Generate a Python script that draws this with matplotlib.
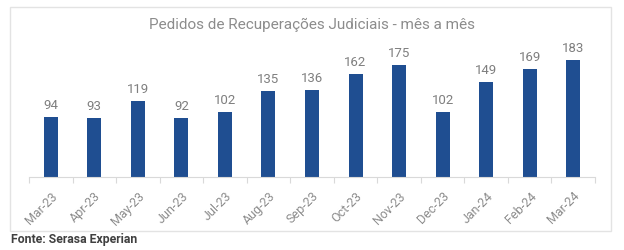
import matplotlib.pyplot as plt
from matplotlib.patches import Rectangle

plt.rcParams['font.family'] = ['Roboto', 'DejaVu Sans']

months = ['Mar-23', 'Apr-23', 'May-23', 'Jun-23', 'Jul-23', 'Aug-23', 'Sep-23',
          'Oct-23', 'Nov-23', 'Dec-23', 'Jan-24', 'Feb-24', 'Mar-24']
pedidos = [94, 93, 119, 92, 102, 135, 136, 162, 175, 102, 149, 169, 183]

W, H = 624, 250
fig = plt.figure(figsize=(W / 100, H / 100), dpi=100)

# frame around the chart
fig.patches.append(Rectangle((10 / W, 1 - 231 / H), 601 / W, 224 / H,
                             transform=fig.transFigure, fill=False,
                             edgecolor='#e3e3e3', linewidth=1))

ax = fig.add_axes([29 / W, 1 - 177 / H, 566 / W, 137 / H])
x = range(len(months))
ax.bar(x, pedidos, width=0.32, color='#1f4e91')
for i, v in zip(x, pedidos):
    ax.text(i, v + 8, str(v), ha='center', va='bottom', fontsize=9.5, color='#7f7f7f')

ax.set_xlim(-0.5, len(months) - 0.5)
ax.set_ylim(0, 215)
ax.set_yticks([])
for s in ['top', 'right', 'left']:
    ax.spines[s].set_visible(False)
ax.spines['bottom'].set_color('#d9d9d9')

# ticks sit between categories
ax.set_xticks([i - 0.5 for i in range(len(months) + 1)], minor=False)
ax.set_xticklabels([])
ax.tick_params(axis='x', which='major', length=4, color='#d9d9d9')
ax.set_xticks(list(x), minor=True)
ax.set_xticklabels(months, minor=True, rotation=45, ha='right', va='top',
                   rotation_mode='anchor', fontsize=9, color='#8c8c8c')
ax.tick_params(axis='x', which='minor', length=0, pad=9)

fig.text(0.5 * (29 + 595) / W, 1 - 25 / H, 'Pedidos de Recuperações Judiciais - mês a mês',
         ha='center', va='center', fontsize=11, color='#8c8c8c')
fig.text(11 / W, 1 - 240 / H, 'Fonte: Serasa Experian', ha='left', va='center',
         fontsize=8.8, fontweight='bold', color='#404040')

fig.savefig('out.png', dpi=100)
